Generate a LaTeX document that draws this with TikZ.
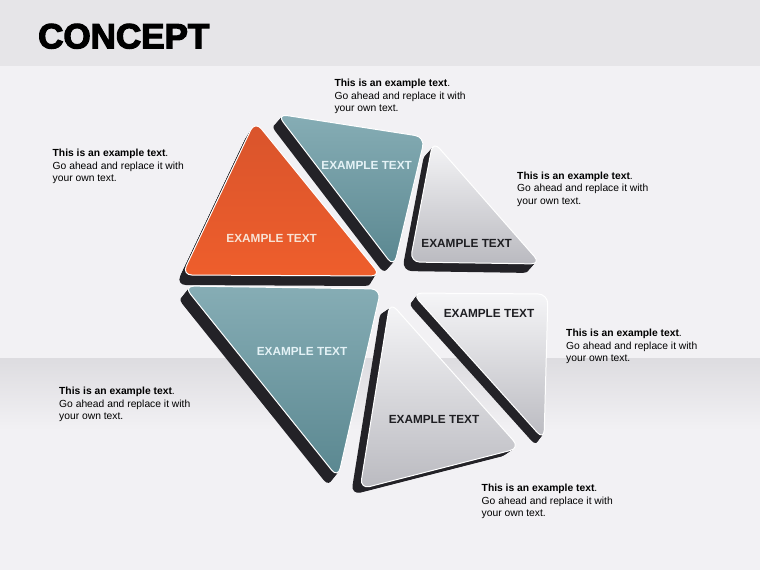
\documentclass[tikz,border=0pt]{standalone}
\usepackage{fontspec}
\setmainfont{Liberation Sans}
\newfontfamily\titlefont{Liberation Sans Bold}[FakeBold=3.5]
\definecolor{hdr}{HTML}{E6E5E8}
\definecolor{bgc}{HTML}{F2F1F4}
\definecolor{bandtop}{HTML}{DDDCE0}
\definecolor{sidec}{HTML}{232227}
\definecolor{orangeT}{HTML}{D9542C}
\definecolor{orangeB}{HTML}{EE5E2C}
\definecolor{tealT}{HTML}{86ADB5}
\definecolor{tealB}{HTML}{5A8790}
\definecolor{grayT}{HTML}{F5F5F7}
\definecolor{grayB}{HTML}{BABAC0}
\definecolor{lblLight}{HTML}{E4F2F6}
\definecolor{lblPeach}{HTML}{F8E2D4}
\definecolor{lblDark}{HTML}{1E1E22}
\newcommand\slabshape[7]{%
  \foreach \k in {10,9,...,1}{%
    \fill[sidec, rounded corners=10pt, shift={({\k*(#4)/10},{\k*(#5)/10})}] #1 -- #2 -- #3 -- cycle;
  }
  \path[top color=#6, bottom color=#7, draw=white, line width=1pt, rounded corners=10pt] #1 -- #2 -- #3 -- cycle;
}
\begin{document}
\begin{tikzpicture}[x=1pt,y=-1pt,
  lbl/.style={font=\bfseries\fontsize{11.8}{12}\selectfont, inner sep=0pt},
  desc/.style={font=\fontsize{10.3}{12.6}\selectfont, align=left, anchor=north west, inner sep=0pt, text=black}]
\useasboundingbox (0,0) rectangle (760,570);
\fill[bgc] (0,0) rectangle (760,570);
\fill[hdr] (0,0) rectangle (760,66);
\shade[top color=bandtop, bottom color=bgc] (0,358) rectangle (760,430);

\node[anchor=base west, inner sep=0pt, font=\titlefont\fontsize{35}{35}\selectfont] (title) at (38,48.3) {CONCEPT};

% slabs
\slabshape{(277,114)}{(425,137)}{(394,267)}{-8}{9}{tealT}{tealB}
\slabshape{(255,121)}{(182,275)}{(381,276)}{-6}{10}{orangeT}{orangeB}
\slabshape{(433,141)}{(410,262)}{(541,264)}{-8}{9}{grayT}{grayB}
\slabshape{(184,286)}{(381,289)}{(338,478)}{-8}{10}{tealT}{tealB}
\slabshape{(412,293)}{(548,294)}{(544,440)}{-6}{8}{grayT}{grayB}
\slabshape{(390,302)}{(360,489)}{(520,448)}{-9}{6}{grayT}{grayB}

% labels
\node[lbl, text=lblPeach] (l1) at (271.7,238.3) {EXAMPLE TEXT};
\node[lbl, text=lblLight] (l2) at (366.7,165) {EXAMPLE TEXT};
\node[lbl, text=lblDark] (l3) at (466.7,243.3) {EXAMPLE TEXT};
\node[lbl, text=lblLight] (l4) at (302,351) {EXAMPLE TEXT};
\node[lbl, text=lblDark] (l5) at (489,313.3) {EXAMPLE TEXT};
\node[lbl, text=lblDark] (l6) at (434,419.3) {EXAMPLE TEXT};

% descriptions
\node[desc] (d1) at (334.3,79) {\textbf{This is an example text}.\\Go ahead and replace it with\\your own text.};
\node[desc] (d2) at (52.5,149) {\textbf{This is an example text}.\\Go ahead and replace it with\\your own text.};
\node[desc] (d3) at (517,171.5) {\textbf{This is an example text}.\\Go ahead and replace it with\\your own text.};
\node[desc] (d4) at (566,329) {\textbf{This is an example text}.\\Go ahead and replace it with\\your own text.};
\node[desc] (d5) at (59,387) {\textbf{This is an example text}.\\Go ahead and replace it with\\your own text.};
\node[desc] (d6) at (481.5,484) {\textbf{This is an example text}.\\Go ahead and replace it with\\your own text.};
\end{tikzpicture}
\end{document}
